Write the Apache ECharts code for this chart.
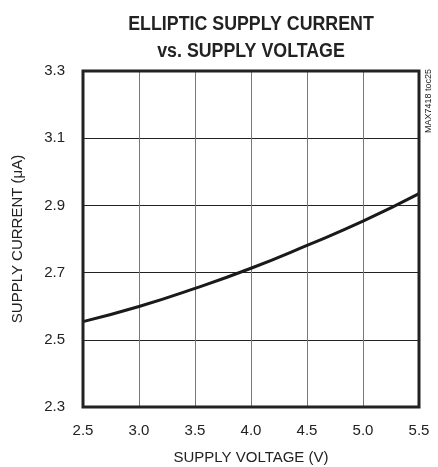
<!DOCTYPE html>
<html><head><meta charset="utf-8">
<script src="https://cdn.jsdelivr.net/npm/echarts@6/dist/echarts.min.js"></script>
<style>html,body{margin:0;padding:0;background:#fff}#c{width:438px;height:467px}</style>
</head><body><div id="c"></div>
<script>
const titleLines = ['ELLIPTIC SUPPLY CURRENT', 'vs. SUPPLY VOLTAGE'];
const xName = 'SUPPLY VOLTAGE (V)';
const yName = 'SUPPLY CURRENT (\u03bcA)';
const watermark = 'MAX7418 toc25';
const voltage = [2.5, 3.0, 3.5, 4.0, 4.5, 5.0, 5.5];
const current = [2.554, 2.599, 2.653, 2.713, 2.781, 2.853, 2.935];
const xTicks = [2.5, 5.5, 0.5];
const yTicks = [2.3, 3.3, 0.2];

const FONT = "'Liberation Sans', Arial, sans-serif";
const chart = echarts.init(document.getElementById('c'));
chart.setOption({
  animation: false,
  backgroundColor: '#fff',
  grid: {left: 83, right: 19, top: 71, bottom: 60, containLabel: false, outerBoundsMode: 'none', show: true, borderColor: '#222', borderWidth: 3, backgroundColor: 'transparent', z: 5},
  graphic: [
    {type: 'text', x: 251, y: 11, scaleX: 0.89, z: 10, style: {text: titleLines.join('\n'), textAlign: 'center', font: 'bold 20px ' + FONT, lineHeight: 27, fill: '#222'}},
    {type: 'text', x: 424, y: 133, rotation: Math.PI / 2, z: 10, style: {text: watermark, font: '9px ' + FONT, fill: '#222'}}
  ],
  xAxis: {
    type: 'value', min: xTicks[0], max: xTicks[1], interval: xTicks[2],
    name: xName, nameLocation: 'middle', nameGap: 43,
    nameTextStyle: {fontFamily: FONT, fontSize: 15, color: '#222'},
    axisLine: {show: false}, axisTick: {show: false},
    axisLabel: {margin: 16, fontFamily: FONT, fontSize: 15, color: '#222', formatter: v => v.toFixed(1)},
    splitLine: {show: true, lineStyle: {color: '#777', width: 1}}
  },
  yAxis: {
    type: 'value', min: yTicks[0], max: yTicks[1], interval: yTicks[2],
    name: yName, nameLocation: 'middle', nameGap: 58,
    nameTextStyle: {fontFamily: FONT, fontSize: 15, color: '#222'},
    axisLine: {show: false}, axisTick: {show: false},
    axisLabel: {margin: 18, fontFamily: FONT, fontSize: 15, color: '#222', formatter: v => v.toFixed(1)},
    splitLine: {show: true, lineStyle: {color: '#222', width: 1}}
  },
  series: [{
    type: 'line', smooth: true, symbol: 'none',
    data: voltage.map((v, i) => [v, current[i]]),
    lineStyle: {color: '#1a1a1a', width: 3}
  }]
});
</script></body></html>
